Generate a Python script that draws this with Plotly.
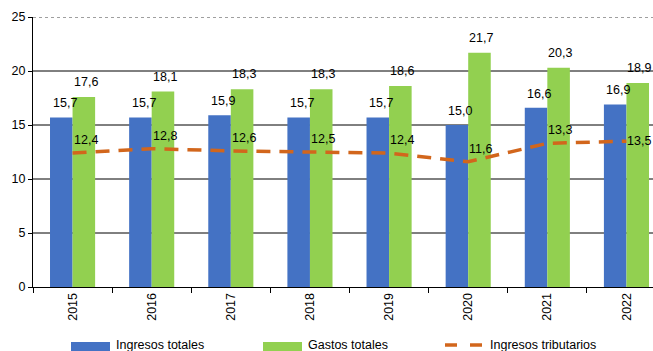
import plotly.graph_objects as go

# Data (percent of GDP)
years = ["2015", "2016", "2017", "2018", "2019", "2020", "2021", "2022"]
ingresos_totales = [15.7, 15.7, 15.9, 15.7, 15.7, 15.0, 16.6, 16.9]
gastos_totales = [17.6, 18.1, 18.3, 18.3, 18.6, 21.7, 20.3, 18.9]
ingresos_tributarios = [12.4, 12.8, 12.6, 12.5, 12.4, 11.6, 13.3, 13.5]
y_ticks = [0, 5, 10, 15, 20, 25]

series_names = ["Ingresos totales", "Gastos totales", "Ingresos tributarios"]

BLUE = "#4472C4"
GREEN = "#92D050"
ORANGE = "#D2661C"
FONT = "Liberation Sans, Arial, sans-serif"
LABEL_FONT = dict(family=FONT, size=12.5, color="#000")

W, H = 653, 351
ML, MT, MB, MR = 33, 17, 64, 0
PW = W - ML - MR
PH = H - MT - MB


def fmt(v):
    return f"{v:.1f}".replace(".", ",")


def px(x):
    return (x - ML) / PW


def py(y):
    return (H - MB - y) / PH


fig = go.Figure()

fig.add_trace(go.Bar(
    x=years, y=ingresos_totales, name=series_names[0],
    marker=dict(color=BLUE, line=dict(width=0)), showlegend=False,
))
fig.add_trace(go.Bar(
    x=years, y=gastos_totales, name=series_names[1],
    marker=dict(color=GREEN, line=dict(width=0)), showlegend=False,
))
fig.add_trace(go.Scatter(
    x=years, y=ingresos_tributarios, name=series_names[2],
    mode="lines",
    line=dict(color=ORANGE, width=3.5, dash="14px,9px"),
    cliponaxis=False, showlegend=False,
))

annotations = []
# value labels above the bars; x is the category index on the category axis
for i, v in enumerate(ingresos_totales):
    annotations.append(dict(x=i, y=v, xref="x", yref="y", text=fmt(v),
                            showarrow=False, xanchor="center", yanchor="bottom",
                            xshift=-8, yshift=5, font=LABEL_FONT))
for i, v in enumerate(gastos_totales):
    annotations.append(dict(x=i, y=v, xref="x", yref="y", text=fmt(v),
                            showarrow=False, xanchor="center", yanchor="bottom",
                            xshift=13, yshift=6, font=LABEL_FONT))
# labels for the tax revenue line; the last one hugs the right edge
for i, v in enumerate(ingresos_tributarios):
    if i == len(years) - 1:
        annotations.append(dict(x=1, y=v, xref="paper", yref="y", text=fmt(v),
                                showarrow=False, xanchor="right",
                                yanchor="middle", font=LABEL_FONT))
    else:
        annotations.append(dict(x=i, y=v, xref="x", yref="y", text=fmt(v),
                                showarrow=False, xanchor="left",
                                yanchor="bottom", xshift=-1, yshift=4,
                                font=LABEL_FONT))

shapes = []
# horizontal gridlines
for v in y_ticks[1:]:
    top = v == y_ticks[-1]
    shapes.append(dict(
        type="line", xref="paper", yref="y", x0=0, x1=1, y0=v, y1=v,
        line=dict(color="#808080" if top else "#000", width=1.5 if top else 1,
                  dash="dot" if top else "solid"),
        layer="below",
    ))

# legend drawn along the bottom
legend_items = [
    (71, 110, "rect", BLUE, 114),
    (263, 302, "rect", GREEN, 306),
    (445, 482, "dash", ORANGE, 488),
]
for (x0, x1, kind, col, tx), name in zip(legend_items, series_names):
    if kind == "rect":
        shapes.append(dict(type="rect", xref="paper", yref="paper",
                           x0=px(x0), x1=px(x1), y0=py(342), y1=py(352),
                           fillcolor=col, line=dict(width=0)))
    else:
        for a, b in [(x0, x0 + 12), (x1 - 12, x1)]:
            shapes.append(dict(type="line", xref="paper", yref="paper",
                               x0=px(a), x1=px(b), y0=py(345), y1=py(345),
                               line=dict(color=col, width=3.5)))
    annotations.append(dict(
        text=name, xref="paper", yref="paper", x=px(tx), y=py(345),
        xanchor="left", yanchor="middle", showarrow=False, font=LABEL_FONT,
    ))

fig.update_layout(
    width=W, height=H,
    margin=dict(l=ML, r=MR, t=MT, b=MB, pad=0),
    paper_bgcolor="white", plot_bgcolor="white",
    barmode="group", bargap=0.43, bargroupgap=0,
    showlegend=False,
    font=dict(family=FONT, size=12.5, color="#000"),
    shapes=shapes, annotations=annotations,
    xaxis=dict(
        type="category", range=[-0.5, 7.5 - 13 / 79],
        showline=True, linecolor="#000", linewidth=1,
        ticks="outside", tickson="boundaries", ticklen=5, tickcolor="#000",
        tickangle=-90, tickfont=dict(family=FONT, size=12.5, color="#000"),
        showgrid=False,
    ),
    yaxis=dict(
        range=[0, 25], tickvals=y_ticks, showgrid=False,
        showline=True, linecolor="#000", linewidth=1,
        ticks="outside", ticklen=4, tickcolor="#000",
        tickfont=dict(family=FONT, size=12.5, color="#000"),
        zeroline=False,
    ),
)

fig.write_html("out.html")
